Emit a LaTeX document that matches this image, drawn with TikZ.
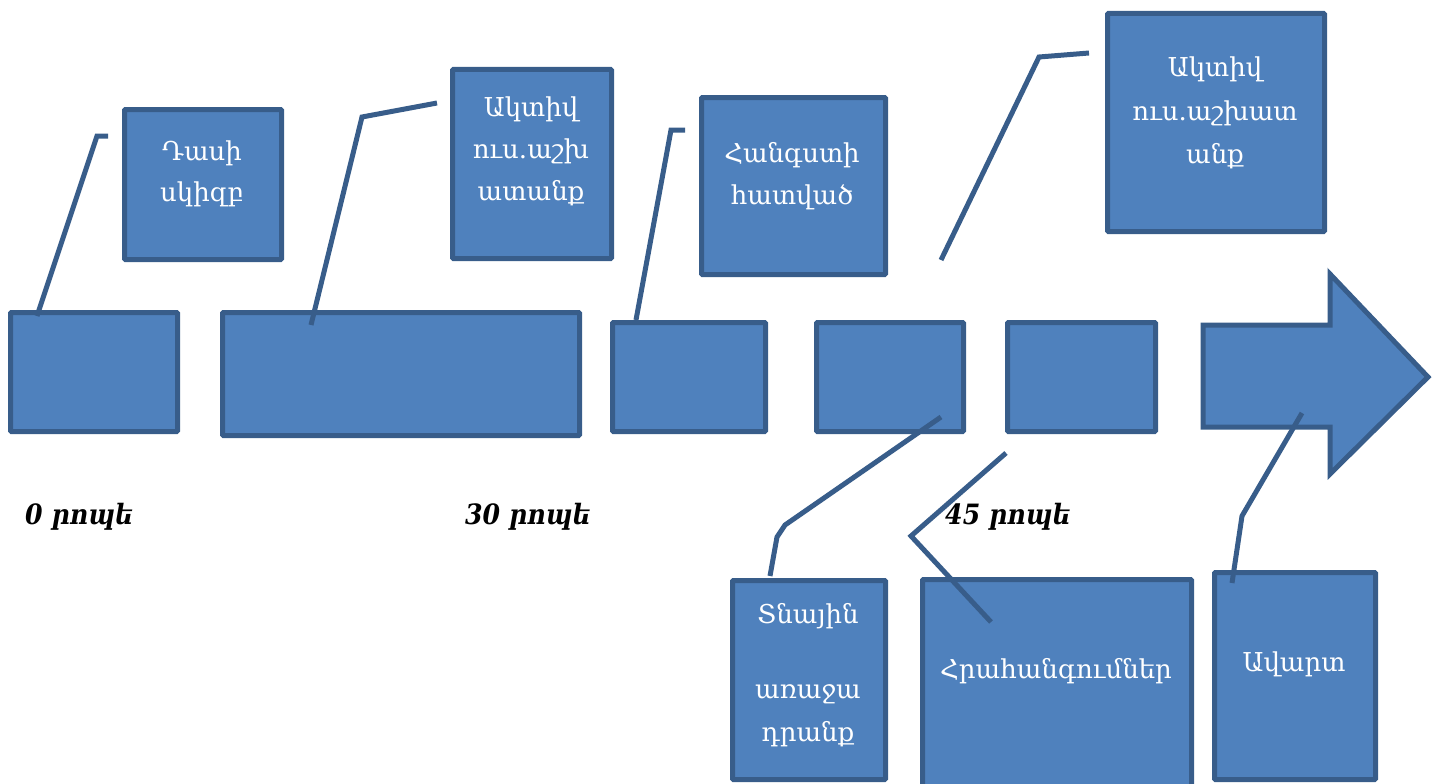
\documentclass[tikz,border=0pt]{standalone}
\usepackage{fontspec}
\setmainfont{DejaVu Serif}
\newfontfamily\lblfont[FakeStretch=0.9]{DejaVu Serif}
\definecolor{fillb}{HTML}{4F81BD}
\definecolor{lineb}{HTML}{385D8A}
\begin{document}
\begin{tikzpicture}[x=1pt,y=-1pt,
  box/.style={draw=lineb, fill=fillb, line width=5pt, rounded corners=1pt, inner sep=0pt, anchor=north west},
  conn/.style={draw=lineb, line width=5pt},
  bt/.style={text=white, font=\fontsize{26}{30}\selectfont, anchor=base, inner sep=0pt},
  lbl/.style={font=\lblfont\bfseries\itshape\fontsize{28}{30}\selectfont, anchor=base west, inner sep=0pt}]
\useasboundingbox (0,0) rectangle (1440,784);
% top boxes
\node[box, minimum width=157pt, minimum height=150pt] (A) at (122,107) {};
\node[box, minimum width=159pt, minimum height=189pt] (B) at (450,67) {};
\node[box, minimum width=184pt, minimum height=177pt] (C) at (699,95) {};
\node[box, minimum width=217pt, minimum height=218pt] (D) at (1105,11) {};
% middle row
\node[box, minimum width=167pt, minimum height=119pt] (R1) at (8,310) {};
\node[box, minimum width=357pt, minimum height=123pt] (R2) at (220,310) {};
\node[box, minimum width=153pt, minimum height=109pt] (R3) at (610,320) {};
\node[box, minimum width=147pt, minimum height=109pt] (R4) at (814,320) {};
\node[box, minimum width=148pt, minimum height=109pt] (R5) at (1005,320) {};
\draw[draw=lineb, fill=fillb, line width=5pt] (1203,325) -- (1330,325) -- (1330,274) -- (1428,377) -- (1330,474) -- (1330,427) -- (1203,427) -- cycle;
% bottom boxes
\node[box, minimum width=153pt, minimum height=199pt] (T) at (730,578) {};
\node[box, minimum width=269pt, minimum height=215pt] (H) at (920,577) {};
\node[box, minimum width=161pt, minimum height=207pt] (V) at (1212,570) {};
% connectors
\coordinate (p1) at (37,316); \coordinate (q1) at (108,136);
\coordinate (p2) at (311,325); \coordinate (q2) at (437,103);
\coordinate (p3) at (636,320); \coordinate (q3) at (685,130);
\coordinate (p4) at (941,260); \coordinate (q4) at (1089,53);
\coordinate (p5) at (941,417); \coordinate (q5) at (770,576);
\coordinate (p6) at (1006,453); \coordinate (q6) at (991,622);
\coordinate (p7) at (1302,413); \coordinate (q7) at (1232,583);
\draw[conn] (p1) -- (97,136) -- (q1);
\draw[conn] (p2) -- (362,117) -- (q2);
\draw[conn] (p3) -- (671,130) -- (q3);
\draw[conn] (p4) -- (1039,57) -- (q4);
\draw[conn] (p5) -- (785,525) -- (777,537) -- (q5);
\draw[conn] (p6) -- (911,536) -- (q6);
\draw[conn] (p7) -- (1242,516) -- (q7);
% box texts
\node[bt] (a1) at (202,160) {Դասի};
\node[bt] (a2) at (202,201) {սկիզբ};
\node[bt] (b1) at (531,116) {Ակտիվ};
\node[bt] (b2) at (531,158) {ուս.աշխ};
\node[bt] (b3) at (531,200) {ատանք};
\node[bt] (c1) at (792,162) {Հանգստի};
\node[bt] (c2) at (792,204) {հատված};
\node[bt] (d1) at (1215,77) {Ակտիվ};
\node[bt] (d2) at (1215,120) {ուս.աշխատ};
\node[bt] (d3) at (1215,163) {անք};
\node[bt] (t1) at (808,623) {Տնային};
\node[bt] (t2) at (808,698) {առաջա};
\node[bt] (t3) at (808,741) {դրանք};
\node[bt] (h1) at (1056,678) {Հրահանգումներ};
\node[bt] (v1) at (1294,671) {Ավարտ};
% time labels
\node[lbl] (l0) at (25,524) {0 րոպե};
\node[lbl] (l30) at (465,524) {30 րոպե};
\node[lbl] (l45) at (945,524) {45 րոպե};
\end{tikzpicture}
\end{document}
